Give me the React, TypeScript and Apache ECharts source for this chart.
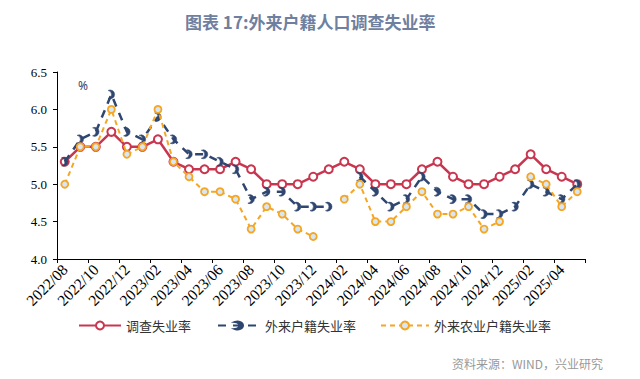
import React, { useEffect, useRef } from "react";
import * as echarts from "echarts";

const months = [
  "2022/08", "2022/09", "2022/10", "2022/11", "2022/12",
  "2023/01", "2023/02", "2023/03", "2023/04", "2023/05", "2023/06", "2023/07", "2023/08", "2023/09", "2023/10", "2023/11", "2023/12",
  "2024/01", "2024/02", "2024/03", "2024/04", "2024/05", "2024/06", "2024/07", "2024/08", "2024/09", "2024/10", "2024/11", "2024/12",
  "2025/01", "2025/02", "2025/03", "2025/04", "2025/05",
];

const surveyRate = [
  5.3, 5.5, 5.5, 5.7, 5.5,
  5.5, 5.6, 5.3, 5.2, 5.2, 5.2, 5.3, 5.2, 5.0, 5.0, 5.0, 5.1,
  5.2, 5.3, 5.2, 5.0, 5.0, 5.0, 5.2, 5.3, 5.1, 5.0, 5.0, 5.1,
  5.2, 5.4, 5.2, 5.1, 5.0,
];

const migrantRate = [
  5.3, 5.6, 5.7, 6.2, 5.7,
  5.6, 5.9, 5.6, 5.4, 5.4, 5.3, 5.2, 4.8, 4.9, 4.9, 4.7, 4.7,
  4.7, null, 5.1, 4.9, 4.7, 4.8, 5.1, 4.9, 4.8, 4.8, 4.6, 4.6,
  4.7, 5.0, 4.9, 4.8, 5.0,
];

const migrantAgriRate = [
  5.0, 5.5, 5.5, 6.0, 5.4,
  5.5, 6.0, 5.3, 5.1, 4.9, 4.9, 4.8, 4.4, 4.7, 4.6, 4.4, 4.3,
  null, 4.8, 5.0, 4.5, 4.5, 4.7, 4.9, 4.6, 4.6, 4.7, 4.4, 4.5,
  null, 5.1, 5.0, 4.7, 4.9,
];

const seriesNames = ["调查失业率", "外来户籍失业率", "外来农业户籍失业率"];
const titleText = "图表 17:外来户籍人口调查失业率";
const sourceText = "资料来源：WIND，兴业研究";

const RED = "#c93650";
const NAVY = "#2e4670";
const ORANGE = "#f5a623";
const crescent =
  "path://M2.708,0.556 A5,5 0 1,1 2.708,9.444 A4.5,4.5 0 0,0 2.708,0.556 Z";

export default function App() {
  const ref = useRef<HTMLDivElement>(null);
  useEffect(() => {
    if (!ref.current) return;
    const chart = echarts.init(ref.current, null, { renderer: "svg" });
    const legendText = {
      fontFamily: "Noto Sans CJK SC",
      fontSize: 13,
      color: "#333",
    };
    chart.setOption({
      animation: false,
      backgroundColor: "#fff",
      title: {
        text: titleText,
        left: 180,
        top: 8,
        textStyle: {
          fontFamily: "Noto Sans CJK SC",
          fontSize: 17,
          fontWeight: "bold",
          color: "#6f7fa0",
        },
      },
      grid: { left: 57, right: 55, top: 72, bottom: 120, containLabel: false },
      legend: [
        {
          data: [seriesNames[0]],
          left: 73,
          top: 314,
          itemWidth: 42,
          itemHeight: 10,
          textStyle: legendText,
        },
        {
          data: [seriesNames[1]],
          left: 212,
          top: 314,
          itemWidth: 42,
          itemHeight: 10,
          textStyle: legendText,
        },
        {
          data: [seriesNames[2]],
          left: 375,
          top: 314,
          itemWidth: 48,
          itemHeight: 10,
          textStyle: legendText,
        },
      ],
      xAxis: {
        type: "category",
        data: months,
        boundaryGap: true,
        axisLine: { lineStyle: { color: "#000", width: 1 } },
        axisTick: { show: true, interval: 1, length: 4, lineStyle: { color: "#000" } },
        axisLabel: {
          interval: 1,
          rotate: 45,
          margin: 8,
          fontFamily: "Liberation Serif",
          fontSize: 15.5,
          color: "#000",
        },
        splitLine: { show: false },
      },
      yAxis: {
        type: "value",
        min: 4.0,
        max: 6.5,
        interval: 0.5,
        axisLine: { show: true, lineStyle: { color: "#000", width: 1 } },
        axisTick: { show: true, length: 4, lineStyle: { color: "#000" } },
        axisLabel: {
          margin: 10,
          fontFamily: "Liberation Serif",
          fontSize: 13,
          color: "#000",
          formatter: (v: number) => v.toFixed(1),
        },
        splitLine: { show: false },
      },
      graphic: [
        {
          type: "text",
          left: 78,
          top: 79,
          style: { text: "%", fill: NAVY, fontSize: 12, fontFamily: "Noto Sans" },
        },
        {
          type: "text",
          right: 37,
          top: 357,
          style: { text: sourceText, fill: "#999", fontSize: 12, fontFamily: "Noto Sans CJK SC" },
        },
      ],
      series: [
        {
          name: seriesNames[0],
          type: "line",
          data: surveyRate,
          symbol: "circle",
          symbolSize: 8,
          itemStyle: { color: "#fff", borderColor: RED, borderWidth: 2 },
          lineStyle: { color: RED, width: 2.5 },
          z: 2,
        },
        {
          name: seriesNames[1],
          type: "line",
          data: migrantRate,
          connectNulls: false,
          symbol: crescent,
          symbolSize: 9,
          symbolKeepAspect: true,
          itemStyle: { color: NAVY, borderColor: NAVY, borderWidth: 0.5 },
          lineStyle: { color: NAVY, width: 2.5, type: [8, 7] },
          z: 3,
        },
        {
          name: seriesNames[2],
          type: "line",
          data: migrantAgriRate,
          connectNulls: false,
          symbol: "circle",
          symbolSize: 7,
          itemStyle: { color: "#d6e6f5", borderColor: ORANGE, borderWidth: 1.8 },
          lineStyle: { color: ORANGE, width: 2, type: [5, 4] },
          z: 4,
        },
      ],
    });
    return () => chart.dispose();
  }, []);
  return (
    <div
      ref={ref}
      style={{ position: "fixed", left: 0, top: 0, width: 640, height: 379, background: "#fff" }}
    />
  );
}
